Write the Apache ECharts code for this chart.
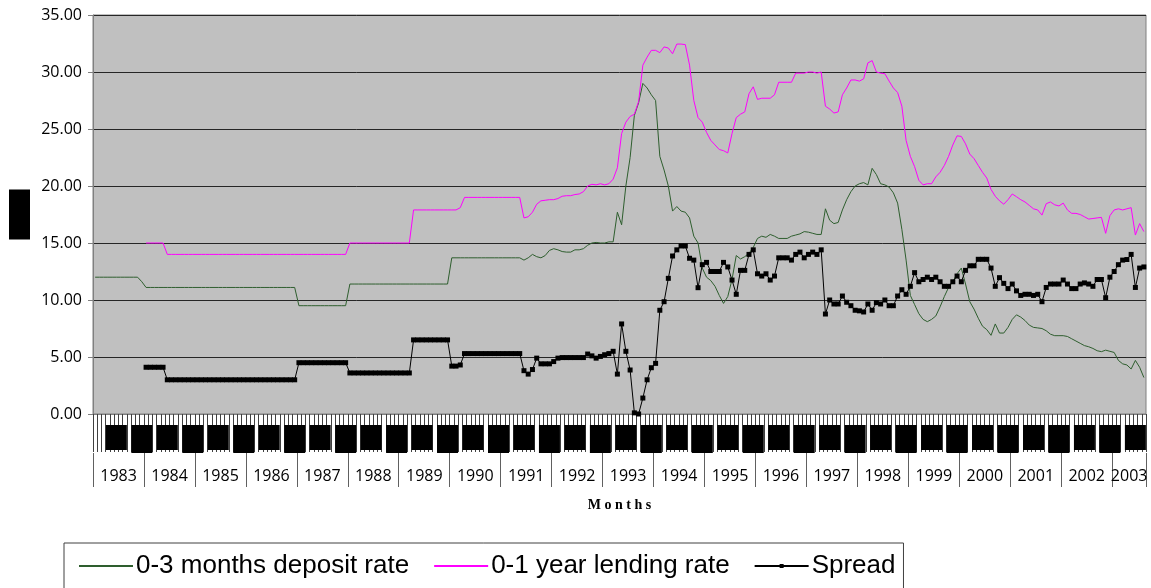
<!DOCTYPE html>
<html>
<head>
<meta charset="utf-8">
<script src="https://cdn.jsdelivr.net/npm/echarts@6/dist/echarts.min.js"></script>
<style>
  html, body { margin: 0; padding: 0; background: #fff; }
  #chart { width: 1151px; height: 588px; }
</style>
</head>
<body>
<div id="chart"></div>
<script>
// years shown on the lower axis row (2003 only runs to August)
const years = ['1983', '1984', '1985', '1986', '1987', '1988', '1989', '1990', '1991', '1992', '1993',
    '1994', '1995', '1996', '1997', '1998', '1999', '2000', '2001', '2002', '2003'];
const monthNames = ['01', '02', '03', '04', '05', '06', '07', '08', '09', '10', '11', '12'];
const lastMonth2003 = 8;

// 0-3 months deposit rate, one row per year
const depositRate = [
    12.0, 12.0, 12.0, 12.0, 12.0, 12.0, 12.0, 12.0, 12.0, 12.0, 12.0, 11.6,
    11.1, 11.1, 11.1, 11.1, 11.1, 11.1, 11.1, 11.1, 11.1, 11.1, 11.1, 11.1,
    11.1, 11.1, 11.1, 11.1, 11.1, 11.1, 11.1, 11.1, 11.1, 11.1, 11.1, 11.1,
    11.1, 11.1, 11.1, 11.1, 11.1, 11.1, 11.1, 11.1, 11.1, 11.1, 11.1, 11.1,
    9.5, 9.5, 9.5, 9.5, 9.5, 9.5, 9.5, 9.5, 9.5, 9.5, 9.5, 9.5,
    11.4, 11.4, 11.4, 11.4, 11.4, 11.4, 11.4, 11.4, 11.4, 11.4, 11.4, 11.4,
    11.4, 11.4, 11.4, 11.4, 11.4, 11.4, 11.4, 11.4, 11.4, 11.4, 11.4, 11.4,
    13.7, 13.7, 13.7, 13.7, 13.7, 13.7, 13.7, 13.7, 13.7, 13.7, 13.7, 13.7,
    13.7, 13.7, 13.7, 13.7, 13.7, 13.5, 13.7, 14.0, 13.8, 13.7, 13.9, 14.35,
    14.5, 14.4, 14.25, 14.2, 14.2, 14.4, 14.4, 14.5, 14.8, 15.0, 15.05, 15.0,
    15.0, 15.1, 15.1, 17.7, 16.6, 20.0, 22.5, 26.2, 27.3, 29.0, 28.6, 28.0,
    27.5, 22.6, 21.4, 20.0, 17.8, 18.2, 17.8, 17.7, 17.2, 15.6, 15.0, 12.8,
    12.0, 11.7, 11.2, 10.4, 9.7, 10.3, 11.8, 13.9, 13.6, 13.8, 14.1, 14.6,
    15.4, 15.6, 15.5, 15.75, 15.6, 15.4, 15.4, 15.4, 15.6, 15.7, 15.8, 16.0,
    15.95, 15.85, 15.75, 15.75, 18.0, 17.0, 16.7, 16.8, 17.9, 18.8, 19.5, 20.0,
    20.2, 20.3, 20.1, 21.55, 21.0, 20.2, 20.1, 19.9, 19.4, 18.5, 16.2, 13.5,
    10.4, 9.6, 8.8, 8.3, 8.1, 8.3, 8.6, 9.4, 10.3, 11.1, 11.6, 12.3,
    12.8, 11.4, 9.85, 9.2, 8.4, 7.7, 7.4, 6.9, 7.9, 7.1, 7.1, 7.6,
    8.3, 8.7, 8.5, 8.2, 7.8, 7.6, 7.55, 7.5, 7.3, 7.0, 6.87, 6.87,
    6.87, 6.8, 6.6, 6.4, 6.2, 6.0, 5.9, 5.75, 5.55, 5.47, 5.6, 5.5,
    5.4, 4.7, 4.4, 4.3, 3.95, 4.7, 4.1, 3.2
];

// 0-1 year lending rate (no data for 1983)
const lendingRate = [
    null, null, null, null, null, null, null, null, null, null, null, null,
    15.0, 15.0, 15.0, 15.0, 15.0, 14.0, 14.0, 14.0, 14.0, 14.0, 14.0, 14.0,
    14.0, 14.0, 14.0, 14.0, 14.0, 14.0, 14.0, 14.0, 14.0, 14.0, 14.0, 14.0,
    14.0, 14.0, 14.0, 14.0, 14.0, 14.0, 14.0, 14.0, 14.0, 14.0, 14.0, 14.0,
    14.0, 14.0, 14.0, 14.0, 14.0, 14.0, 14.0, 14.0, 14.0, 14.0, 14.0, 14.0,
    15.0, 15.0, 15.0, 15.0, 15.0, 15.0, 15.0, 15.0, 15.0, 15.0, 15.0, 15.0,
    15.0, 15.0, 15.0, 17.9, 17.9, 17.9, 17.9, 17.9, 17.9, 17.9, 17.9, 17.9,
    17.9, 17.9, 18.1, 19.0, 19.0, 19.0, 19.0, 19.0, 19.0, 19.0, 19.0, 19.0,
    19.0, 19.0, 19.0, 19.0, 19.0, 17.2, 17.3, 17.7, 18.4, 18.7, 18.75, 18.8,
    18.8, 18.9, 19.1, 19.15, 19.15, 19.25, 19.3, 19.5, 20.0, 20.15, 20.1, 20.2,
    20.1, 20.2, 20.6, 21.6, 24.6, 25.6, 26.1, 26.3, 27.4, 30.6, 31.3, 31.9,
    31.9, 31.7, 32.2, 32.1, 31.6, 32.45, 32.45, 32.4, 30.6, 27.5, 26.0, 25.6,
    24.7, 24.0, 23.6, 23.2, 23.1, 22.9, 24.6, 26.0, 26.3, 26.5, 28.1, 28.7,
    27.6, 27.7, 27.7, 27.7, 28.0, 29.1, 29.1, 29.1, 29.1, 29.9, 29.9, 29.9,
    30.0, 30.0, 29.9, 30.0, 27.0, 26.75, 26.4, 26.5, 28.0, 28.6, 29.3, 29.3,
    29.2, 29.4, 30.8, 31.0, 30.0, 29.9, 29.85, 29.2, 28.6, 28.2, 27.0, 24.0,
    22.6, 21.7, 20.5, 20.1, 20.2, 20.2, 20.8, 21.2, 21.8, 22.6, 23.6, 24.4,
    24.35, 23.7, 22.8, 22.4, 21.8, 21.2, 20.7, 19.7, 19.1, 18.7, 18.4, 18.8,
    19.3, 19.06, 18.8, 18.6, 18.3, 18.0, 17.9, 17.45, 18.45, 18.6, 18.35, 18.25,
    18.5, 17.9, 17.6, 17.6, 17.5, 17.3, 17.1, 17.15, 17.2, 17.25, 15.85, 17.4,
    17.9, 18.0, 17.9, 18.0, 18.1, 15.7, 16.7, 16.0
];

// spread between the two rates (no data for 1983)
const spread = [
    null, null, null, null, null, null, null, null, null, null, null, null,
    4.1, 4.1, 4.1, 4.1, 4.1, 3.0, 3.0, 3.0, 3.0, 3.0, 3.0, 3.0,
    3.0, 3.0, 3.0, 3.0, 3.0, 3.0, 3.0, 3.0, 3.0, 3.0, 3.0, 3.0,
    3.0, 3.0, 3.0, 3.0, 3.0, 3.0, 3.0, 3.0, 3.0, 3.0, 3.0, 3.0,
    4.5, 4.5, 4.5, 4.5, 4.5, 4.5, 4.5, 4.5, 4.5, 4.5, 4.5, 4.5,
    3.6, 3.6, 3.6, 3.6, 3.6, 3.6, 3.6, 3.6, 3.6, 3.6, 3.6, 3.6,
    3.6, 3.6, 3.6, 6.5, 6.5, 6.5, 6.5, 6.5, 6.5, 6.5, 6.5, 6.5,
    4.2, 4.2, 4.3, 5.3, 5.3, 5.3, 5.3, 5.3, 5.3, 5.3, 5.3, 5.3,
    5.3, 5.3, 5.3, 5.3, 5.3, 3.8, 3.5, 3.9, 4.9, 4.4, 4.4, 4.4,
    4.6, 4.9, 4.95, 4.95, 4.95, 4.95, 4.95, 4.95, 5.26, 5.1, 4.9, 5.05,
    5.2, 5.3, 5.5, 3.5, 7.9, 5.5, 3.86, 0.1, 0.0, 1.4, 3.0, 4.06,
    4.44, 9.1, 9.85, 11.9, 13.86, 14.4, 14.74, 14.74, 13.66, 13.5, 11.08, 13.1,
    13.3, 12.5, 12.5, 12.5, 13.3, 12.9, 11.75, 10.5, 12.6, 12.6, 14.0, 14.4,
    12.3, 12.1, 12.3, 11.75, 12.1, 13.7, 13.7, 13.7, 13.5, 14.0, 14.2, 13.7,
    14.0, 14.2, 14.0, 14.4, 8.77, 10.0, 9.65, 9.65, 10.35, 9.8, 9.5, 9.1,
    9.05, 8.95, 9.65, 9.1, 9.77, 9.65, 10.0, 9.5, 9.5, 10.35, 10.9, 10.5,
    11.2, 12.4, 11.6, 11.8, 12.0, 11.8, 12.0, 11.6, 11.2, 11.2, 11.6, 12.1,
    11.6, 12.6, 13.0, 13.0, 13.57, 13.57, 13.57, 12.8, 11.2, 11.96, 11.46, 11.0,
    11.4, 10.8, 10.4, 10.5, 10.5, 10.4, 10.5, 9.85, 11.1, 11.4, 11.4, 11.4,
    11.75, 11.4, 11.0, 11.0, 11.4, 11.5, 11.4, 11.2, 11.8, 11.8, 10.2, 12.0,
    12.5, 13.1, 13.5, 13.55, 14.0, 11.1, 12.8, 12.9
];

// month categories: Jan 1983 .. Aug 2003
const months = [];
years.forEach((y, yi) => {
    monthNames.forEach((m, mi) => {
        if (yi < years.length - 1 || mi < lastMonth2003) months.push(y + '-' + m);
    });
});

const chart = echarts.init(document.getElementById('chart'), null, { renderer: 'canvas' });
const labelFont = 'Open Sans';

chart.setOption({
    animation: false,
    backgroundColor: '#ffffff',
    grid: {
        left: 93, right: 5, top: 15, bottom: 174,
        show: true, backgroundColor: '#C0C0C0', borderColor: '#808080', borderWidth: 1,
        outerBoundsMode: 'none'
    },
    legend: {
        left: 64, top: 543,
        padding: [10, 8, 40, 14],
        itemGap: 24, itemWidth: 54, itemHeight: 5,
        borderColor: '#404040', borderWidth: 1, backgroundColor: '#fff',
        textStyle: { fontFamily: 'Liberation Sans', fontSize: 26, color: '#000', padding: [0, 0, 0, -2] },
        data: [
            { name: '0-3 months deposit rate', itemStyle: { opacity: 0 } },
            { name: '0-1 year lending rate', itemStyle: { opacity: 0 } },
            { name: 'Spread' }
        ]
    },
    xAxis: [
        {
            // month band: ticks every month, hidden label boxes every 6 months
            type: 'category', data: months, position: 'bottom',
            axisLine: { show: true, lineStyle: { color: '#808080', width: 1 } },
            axisTick: { show: true, interval: 0, length: 38, lineStyle: { color: '#404040', width: 1 } },
            axisLabel: {
                interval: (idx) => idx % 6 === 5,
                margin: 11,
                formatter: (v, idx) => (idx % 12 === 5 ? '{a| }' : '{b| }'),
                rich: {
                    a: { backgroundColor: '#000', width: 21, height: 25 },
                    b: { backgroundColor: '#000', width: 21, height: 28 }
                }
            },
            splitLine: { show: false }
        },
        {
            // year separators
            type: 'value', min: 0, max: months.length, interval: 12, position: 'bottom', offset: 39,
            axisLine: { show: false },
            axisTick: { show: true, length: 34, lineStyle: { color: '#606060', width: 1 } },
            axisLabel: { show: false },
            splitLine: { show: false }
        },
        {
            // year labels
            type: 'category', data: months, position: 'bottom', offset: 39,
            axisLine: { show: false },
            axisTick: { show: false },
            axisLabel: {
                interval: (idx) => (idx < 240 ? idx % 12 === 6 : idx === 244),
                formatter: (v, idx) => years[Math.floor(idx / 12)],
                margin: 15,
                padding: [0, 4, 0, 0],
                fontFamily: labelFont, fontSize: 16, color: '#000'
            },
            name: 'M o n t h s',
            nameLocation: 'middle',
            nameGap: 45,
            nameTextStyle: { fontFamily: 'Liberation Serif', fontWeight: 'bold', fontSize: 14, color: '#000' },
            splitLine: { show: false }
        }
    ],
    yAxis: {
        type: 'value', min: 0, max: 35, interval: 5,
        axisLine: { show: true, lineStyle: { color: '#808080', width: 1 } },
        axisTick: { show: true, length: 5, lineStyle: { color: '#808080' } },
        axisLabel: {
            formatter: (v) => v.toFixed(2),
            margin: 11,
            fontFamily: labelFont, fontSize: 16, color: '#000'
        },
        splitLine: { show: true, lineStyle: { color: '#262626', width: 1 } },
        name: '{box| }',
        nameLocation: 'middle',
        nameRotate: 0,
        nameGap: 63,
        nameTextStyle: {
            rich: { box: { backgroundColor: '#000', width: 21, height: 50 } }
        }
    },
    series: [
        {
            name: '0-3 months deposit rate', type: 'line', xAxisIndex: 0,
            data: depositRate, symbol: 'none',
            lineStyle: { color: '#2E5E2E', width: 1 }, itemStyle: { color: '#2E5E2E' }
        },
        {
            name: '0-1 year lending rate', type: 'line', xAxisIndex: 0,
            data: lendingRate, symbol: 'none',
            lineStyle: { color: '#FF00FF', width: 1 }, itemStyle: { color: '#FF00FF' }
        },
        {
            name: 'Spread', type: 'line', xAxisIndex: 0,
            data: spread, symbol: 'rect', symbolSize: 5, showAllSymbol: true,
            lineStyle: { color: '#000', width: 1 }, itemStyle: { color: '#000' }
        }
    ]
});
</script>
</body>
</html>
